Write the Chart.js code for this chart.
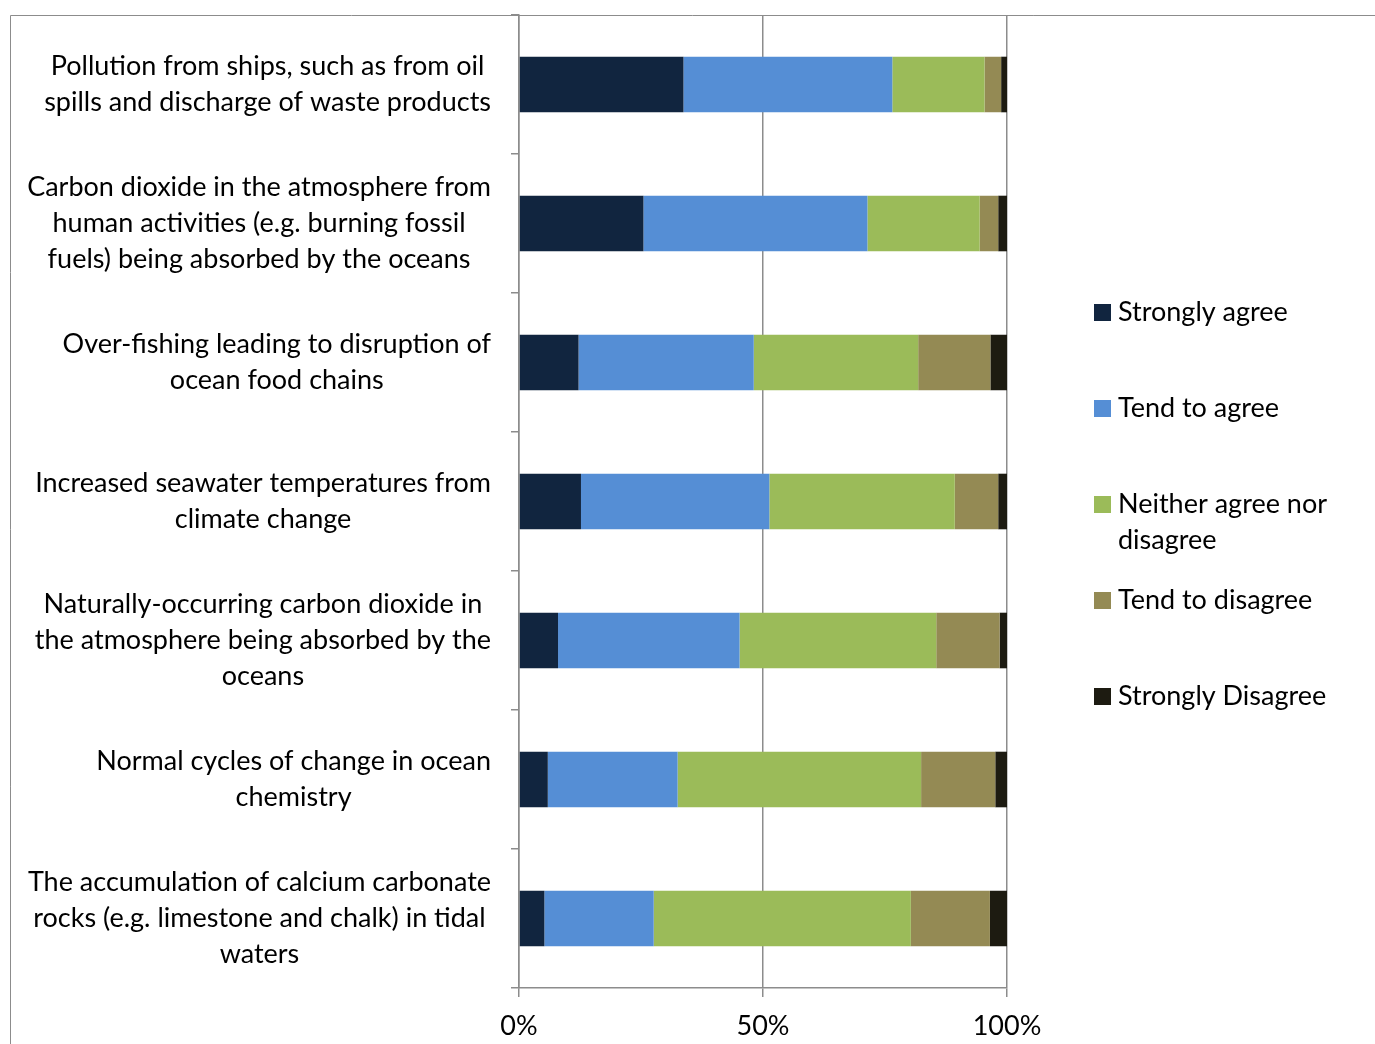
<!DOCTYPE html>
<html>
<head>
<meta charset="utf-8">
<script src="https://cdn.jsdelivr.net/npm/chart.js@4/dist/chart.umd.min.js"></script>
<style>
  html, body { margin: 0; padding: 0; background: #ffffff; }
  #wrap { position: relative; width: 1375px; height: 1044px; }
  canvas { display: block; }
</style>
</head>
<body>
<div id="wrap"><canvas id="chart" width="1375" height="1044"></canvas></div>
<script>
// Survey statements (one category per bar), each split into display lines
const statements = [
  ['Pollution from ships, such as from oil', 'spills and discharge of waste products'],
  ['Carbon dioxide in the atmosphere from', 'human activities (e.g. burning fossil', 'fuels) being absorbed by the oceans'],
  ['Over-fishing leading to disruption of', 'ocean food chains'],
  ['Increased seawater temperatures from', 'climate change'],
  ['Naturally-occurring carbon dioxide in', 'the atmosphere being absorbed by the', 'oceans'],
  ['Normal cycles of change in ocean', 'chemistry'],
  ['The accumulation of calcium carbonate', 'rocks (e.g. limestone and chalk) in tidal', 'waters']
];

// Response categories
const responses = ['Strongly agree', 'Tend to agree', 'Neither agree nor disagree', 'Tend to disagree', 'Strongly Disagree'];
const responseColors = ['#11253f', '#558ed5', '#9bbb59', '#948a54', '#1d1b11'];

// Share of respondents (%) per statement
const stronglyAgree    = [33.7, 25.5, 12.2, 12.7,  8.0,  5.9,  5.2];
const tendToAgree      = [42.8, 45.9, 35.9, 38.6, 37.2, 26.6, 22.4];
const neitherAgree     = [18.9, 23.0, 33.7, 38.0, 40.3, 49.9, 52.7];
const tendToDisagree   = [ 3.4,  3.8, 14.8,  8.9, 13.0, 15.2, 16.2];
const stronglyDisagree = [ 1.2,  1.8,  3.4,  1.8,  1.5,  2.4,  3.5];

// Percentage axis ticks
const xTicks = [0, 50, 100];

const FONT_FAMILY = 'Lato, "Open Sans", sans-serif';
const FONT_SIZE = 27;
const LINE_H = 36;
const GRID = '#8c8c8c';

const seriesValues = [stronglyAgree, tendToAgree, neitherAgree, tendToDisagree, stronglyDisagree];

// Outer frame lines along the top and left edge
const framePlugin = {
  id: 'frame',
  beforeDraw(chart) {
    const ctx = chart.ctx;
    ctx.save();
    ctx.strokeStyle = GRID;
    ctx.lineWidth = 1;
    ctx.beginPath();
    ctx.moveTo(10.5, chart.height);
    ctx.lineTo(10.5, 15.5);
    ctx.lineTo(chart.width, 15.5);
    ctx.stroke();
    ctx.restore();
  }
};

// Category labels: each block right-aligned to the axis, lines centred within the block
const statementLabels = {
  id: 'statementLabels',
  afterDraw(chart) {
    const yScale = chart.scales.y;
    const ctx = chart.ctx;
    ctx.save();
    ctx.font = FONT_SIZE + 'px ' + FONT_FAMILY;
    ctx.fillStyle = '#000000';
    ctx.textAlign = 'center';
    ctx.textBaseline = 'middle';
    const rightEdge = yScale.right - 28;
    chart.data.labels.forEach((lines, i) => {
      const cy = yScale.getPixelForValue(i);
      const widest = Math.max(...lines.map(l => ctx.measureText(l).width));
      const cx = rightEdge - widest / 2;
      lines.forEach((line, k) => {
        ctx.fillText(line, cx, cy + (k - (lines.length - 1) / 2) * LINE_H);
      });
    });
    ctx.restore();
  }
};

// Legend down the right-hand side, long labels wrapped onto a second line
const sideLegend = {
  id: 'sideLegend',
  afterDraw(chart) {
    const ctx = chart.ctx;
    ctx.save();
    ctx.font = FONT_SIZE + 'px ' + FONT_FAMILY;
    ctx.textBaseline = 'middle';
    ctx.textAlign = 'left';
    const boxX = chart.chartArea.right + 87;
    const box = 17;
    const textX = boxX + box + 7;
    const maxW = 240;
    const firstY = 312;
    const step = 96;
    chart.data.datasets.forEach((ds, i) => {
      const cy = firstY + i * step;
      ctx.fillStyle = ds.backgroundColor;
      ctx.fillRect(boxX, Math.round(cy - box / 2), box, box);
      const words = ds.label.split(' ');
      const lines = [];
      let cur = '';
      words.forEach(w => {
        const t = cur ? cur + ' ' + w : w;
        if (cur && ctx.measureText(t).width > maxW) { lines.push(cur); cur = w; }
        else cur = t;
      });
      lines.push(cur);
      ctx.fillStyle = '#000000';
      lines.forEach((l, k) => ctx.fillText(l, textX, cy + k * LINE_H));
    });
    ctx.restore();
  }
};

function draw() {
  new Chart(document.getElementById('chart'), {
    type: 'bar',
    data: {
      labels: statements,
      datasets: responses.map((name, i) => ({
        label: name,
        data: seriesValues[i],
        backgroundColor: responseColors[i],
        borderWidth: 0,
        barPercentage: 0.4,
        categoryPercentage: 1.0
      }))
    },
    options: {
      indexAxis: 'y',
      responsive: false,
      animation: false,
      layout: { padding: { top: 15, right: 368, left: 0, bottom: 0 } },
      plugins: {
        legend: { display: false },
        tooltip: { enabled: false }
      },
      scales: {
        x: {
          stacked: true,
          min: 0,
          max: 100,
          afterBuildTicks(scale) { scale.ticks = xTicks.map(v => ({ value: v })); },
          afterFit(scale) { scale.height = 56; },
          grid: { color: GRID, lineWidth: 1.5, tickLength: 9, drawTicks: true },
          border: { color: GRID, width: 1.5 },
          ticks: {
            padding: 13,
            color: '#000000',
            font: { family: FONT_FAMILY, size: FONT_SIZE },
            maxRotation: 0,
            callback: v => v + '%'
          }
        },
        y: {
          stacked: true,
          offset: true,
          afterFit(scale) { scale.width = 519; },
          grid: { offset: true, drawOnChartArea: false, drawTicks: true, tickLength: 8, color: GRID, lineWidth: 1.5 },
          border: { color: GRID, width: 1.5 },
          ticks: { display: false }
        }
      }
    },
    plugins: [framePlugin, statementLabels, sideLegend]
  });
}

if (document.fonts && document.fonts.load) {
  document.fonts.load(FONT_SIZE + 'px Lato').then(draw, draw);
} else {
  draw();
}
</script>
</body>
</html>
